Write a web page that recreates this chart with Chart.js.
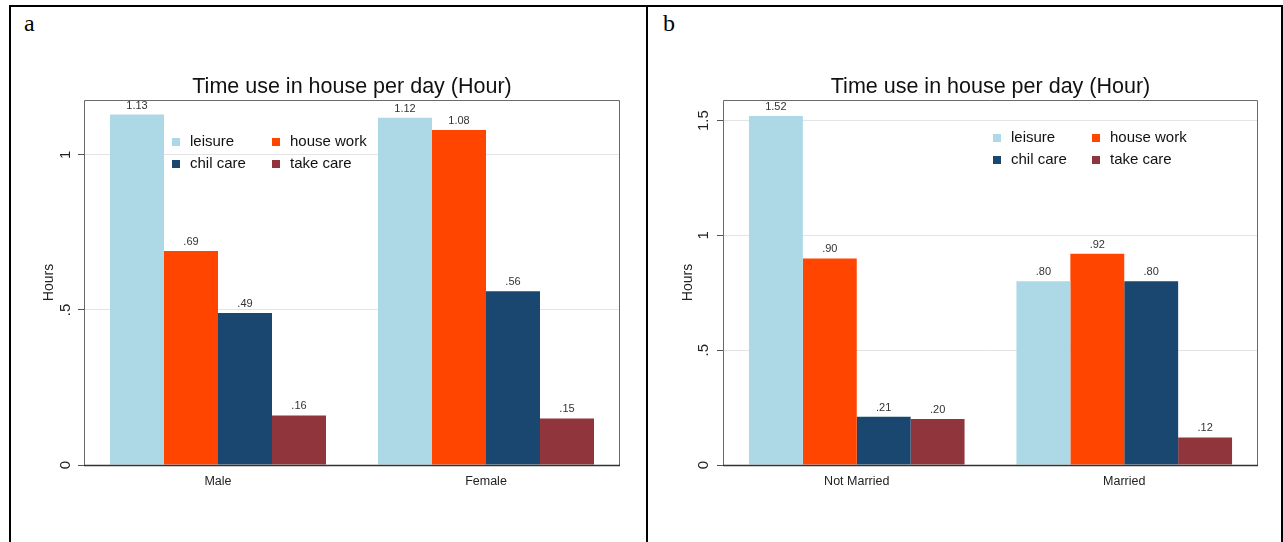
<!DOCTYPE html>
<html>
<head>
<meta charset="utf-8">
<script src="https://cdn.jsdelivr.net/npm/chart.js@4"></script>
<style>
  html, body { margin: 0; padding: 0; background: #fff; }
  body { width: 1283px; height: 542px; position: relative; overflow: hidden; }
  #frame { position: absolute; left: 9px; top: 5px; width: 1270px; height: 545px; border: 2px solid #000; }
  #divider { position: absolute; left: 646px; top: 5px; width: 2px; height: 540px; background: #000; }
  .letter { position: absolute; font-family: "Liberation Serif", "Times New Roman", serif; font-size: 24px; color: #000; }
  canvas { position: absolute; }
</style>
</head>
<body>
<div id="frame"></div>
<div id="divider"></div>
<div class="letter" style="left:24px; top:10px;">a</div>
<div class="letter" style="left:663px; top:10px;">b</div>
<canvas id="chartA" width="634" height="534" style="left:12px; top:8px;"></canvas>
<canvas id="chartB" width="630" height="534" style="left:650px; top:8px;"></canvas>
<script>
// series names and colours
const seriesNames = ['leisure', 'house work', 'chil care', 'take care'];
const seriesColors = ['#ADD8E6', '#FF4500', '#1A476F', '#90353B'];

// panel a: by gender
const genderCats = ['Male', 'Female'];
const leisureGender = [1.13, 1.12];
const houseWorkGender = [0.69, 1.08];
const childCareGender = [0.49, 0.56];
const takeCareGender = [0.16, 0.15];

// panel b: by marital status
const maritalCats = ['Not Married', 'Married'];
const leisureMarital = [1.52, 0.80];
const houseWorkMarital = [0.90, 0.92];
const childCareMarital = [0.21, 0.80];
const takeCareMarital = [0.20, 0.12];

const chartTitle = 'Time use in house per day (Hour)';
const yTitle = 'Hours';

const FONT = '"Liberation Sans", Arial, sans-serif';

// strip leading zero like stata does (.69 instead of 0.69)
const fmtValue = v => v.toFixed(2).replace(/^0\./, '.');
const fmtTick = v => v === 0 ? '0' : String(v).replace(/^0\./, '.');

const framePlugin = {
    id: 'frame',
    afterDatasetsDraw(chart) {
        const {ctx, chartArea: a} = chart;
        ctx.save();
        ctx.lineWidth = 1;
        ctx.strokeStyle = '#6a6a6a';
        ctx.beginPath();
        ctx.moveTo(a.left + 0.5, a.bottom);
        ctx.lineTo(a.left + 0.5, a.top + 0.5);
        ctx.lineTo(a.right - 0.5, a.top + 0.5);
        ctx.lineTo(a.right - 0.5, a.bottom);
        ctx.stroke();
        ctx.strokeStyle = '#333';
        ctx.lineWidth = 1.5;
        ctx.beginPath();
        ctx.moveTo(a.left, a.bottom + 0.5);
        ctx.lineTo(a.right, a.bottom + 0.5);
        ctx.stroke();
        ctx.restore();
    }
};

const labelsPlugin = {
    id: 'valueLabels',
    afterDatasetsDraw(chart) {
        const ctx = chart.ctx;
        ctx.save();
        ctx.font = '11px ' + FONT;
        ctx.fillStyle = '#333';
        ctx.textAlign = 'center';
        ctx.textBaseline = 'alphabetic';
        chart.data.datasets.forEach((ds, i) => {
            const meta = chart.getDatasetMeta(i);
            meta.data.forEach((bar, j) => {
                ctx.fillText(fmtValue(ds.data[j]), bar.x, bar.y - 6);
            });
        });
        ctx.restore();
    }
};

const titlePlugin = {
    id: 'topTitle',
    afterDraw(chart) {
        const ctx = chart.ctx;
        const a = chart.chartArea;
        ctx.save();
        ctx.font = '21.5px ' + FONT;
        ctx.fillStyle = '#111';
        ctx.textAlign = 'center';
        ctx.textBaseline = 'alphabetic';
        ctx.fillText(chartTitle, (a.left + a.right) / 2, 85);
        ctx.restore();
    }
};

const legendPlugin = {
    id: 'innerLegend',
    afterDraw(chart, args, opts) {
        const ctx = chart.ctx;
        const a = chart.chartArea;
        ctx.save();
        ctx.font = '15px ' + FONT;
        ctx.textBaseline = 'middle';
        ctx.textAlign = 'left';
        chart.data.datasets.forEach((ds, i) => {
            const col = i % 2, row = Math.floor(i / 2);
            const x = a.left + opts.x + col * opts.colGap;
            const y = a.top + opts.y + row * opts.rowGap;
            ctx.fillStyle = ds.backgroundColor;
            ctx.fillRect(x, y - 4, 8, 8);
            ctx.fillStyle = '#111';
            ctx.fillText(ds.label, x + 18, y);
        });
        ctx.restore();
    }
};

makeChart = (id, cats, values, yMax, tickPad, axisLeft, axisWidth, padRight, legendPos) => {
    const datasets = values.map((vals, i) => ({
        label: seriesNames[i],
        data: vals,
        backgroundColor: seriesColors[i],
        borderWidth: 0,
        categoryPercentage: 0.806,
        barPercentage: 1.0
    }));

    return new Chart(document.getElementById(id), {
        type: 'bar',
        data: { labels: cats, datasets: datasets },
        options: {
            responsive: false,
            animation: false,
            devicePixelRatio: 1,
            layout: { padding: { left: axisLeft, right: padRight, top: 92, bottom: 0 } },
            plugins: {
                legend: { display: false },
                tooltip: { enabled: false },
                innerLegend: legendPos
            },
            scales: {
                x: {
                    grid: { display: false, drawTicks: false },
                    border: { display: false },
                    ticks: { font: { family: FONT, size: 12.5 }, color: '#222', padding: 9 },
                    afterFit: s => { s.height = 77; }
                },
                y: {
                    min: 0,
                    max: yMax,
                    grid: { color: '#e3e3e3', lineWidth: 1, tickColor: '#555', tickLength: 6 },
                    border: { display: false },
                    ticks: {
                        stepSize: 0.5,
                        includeBounds: false,
                        minRotation: 90,
                        maxRotation: 90,
                        crossAlign: 'center',
                        padding: tickPad,
                        font: { family: FONT, size: 15 },
                        color: '#222',
                        callback: v => fmtTick(v)
                    },
                    title: { display: true, text: yTitle, font: { family: FONT, size: 14 }, color: '#222' },
                    afterFit: s => { s.width = axisWidth; }
                }
            }
        },
        plugins: [framePlugin, labelsPlugin, titlePlugin, legendPlugin]
    });
}

makeChart('chartA', genderCats,
    [leisureGender, houseWorkGender, childCareGender, takeCareGender],
    1.177, 5.5, 25, 47, 26, { x: 88, y: 42, colGap: 100, rowGap: 22 });

makeChart('chartB', maritalCats,
    [leisureMarital, houseWorkMarital, childCareMarital, takeCareMarital],
    1.59, 3, 26, 47, 22, { x: 270, y: 38, colGap: 99, rowGap: 22 });
</script>
</body>
</html>
